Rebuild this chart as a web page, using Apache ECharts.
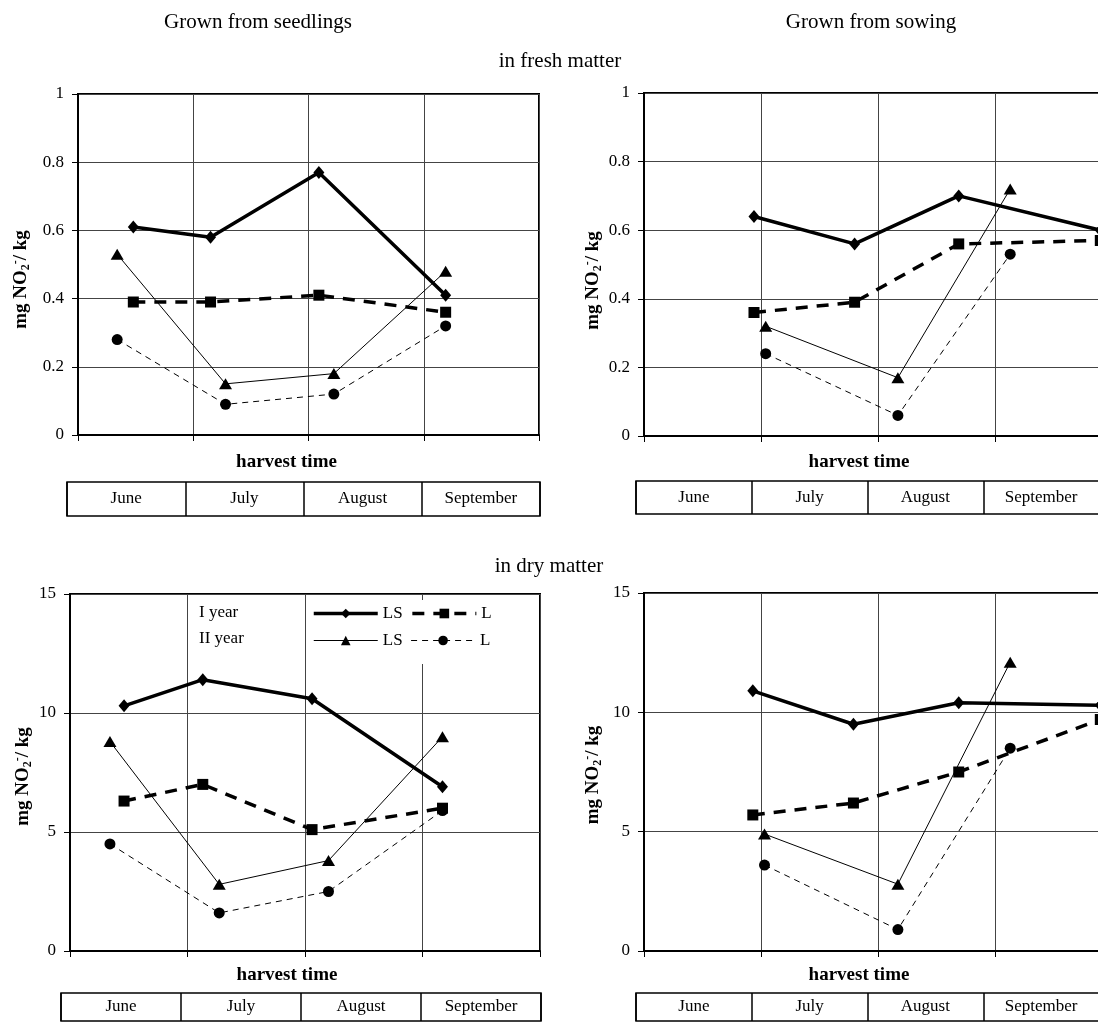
<!DOCTYPE html>
<html><head><meta charset="utf-8">
<script src="https://cdn.jsdelivr.net/npm/echarts@6/dist/echarts.min.js"></script>
<style>html,body{margin:0;padding:0;background:#fff}#c{width:1098px;height:1023px}</style>
</head><body><div id="c"></div>
<script>
const months = ['June', 'July', 'August', 'September'];
const seriesNames = ['LS I year', 'L I year', 'LS II year', 'L II year'];

// Fresh matter, grown from seedlings (top left); x = harvest position in months from start of June
const freshSeedX1 = [0.48, 1.15, 2.09, 3.19];
const freshSeedX2 = [0.34, 1.28, 2.22, 3.19];
const freshSeedLS1 = [0.61, 0.58, 0.77, 0.41];
const freshSeedL1 = [0.39, 0.39, 0.41, 0.36];
const freshSeedLS2 = [0.53, 0.15, 0.18, 0.48];
const freshSeedL2 = [0.28, 0.09, 0.12, 0.32];

// Fresh matter, grown from sowing (top right)
const freshSowX1 = [0.94, 1.80, 2.69, 3.90];
const freshSowX2 = [1.04, 2.17, 3.13];
const freshSowLS1 = [0.64, 0.56, 0.70, 0.60];
const freshSowL1 = [0.36, 0.39, 0.56, 0.57];
const freshSowLS2 = [0.32, 0.17, 0.72];
const freshSowL2 = [0.24, 0.06, 0.53];

// Dry matter, grown from seedlings (bottom left)
const drySeedX1 = [0.46, 1.13, 2.06, 3.17];
const drySeedX2 = [0.34, 1.27, 2.20, 3.17];
const drySeedLS1 = [10.3, 11.4, 10.6, 6.9];
const drySeedL1 = [6.3, 7.0, 5.1, 6.0];
const drySeedLS2 = [8.8, 2.8, 3.8, 9.0];
const drySeedL2 = [4.5, 1.6, 2.5, 5.9];

// Dry matter, grown from sowing (bottom right)
const drySowX1 = [0.93, 1.79, 2.69, 3.90];
const drySowX2 = [1.03, 2.17, 3.13];
const drySowLS1 = [10.9, 9.5, 10.4, 10.3];
const drySowL1 = [5.7, 6.2, 7.5, 9.7];
const drySowLS2 = [4.9, 2.8, 12.1];
const drySowL2 = [3.6, 0.9, 8.5];

const FONT = "'Liberation Serif', 'Times New Roman', serif";

const styles = [
  { symbol: 'diamond', symbolSize: [11, 13], lw: 3.5, type: 'solid' },
  { symbol: 'rect', symbolSize: 11, lw: 3.5, type: [12, 9] },
  { symbol: 'triangle', symbolSize: [13, 11], lw: 1, type: 'solid' },
  { symbol: 'circle', symbolSize: 11, lw: 1, type: [6, 5] }
];

function line(k, gi, xs, ys) {
  const s = styles[k];
  return {
    name: seriesNames[k], type: 'line', xAxisIndex: gi, yAxisIndex: gi,
    data: xs.map((x, i) => [x, ys[i]]),
    symbol: s.symbol, symbolSize: s.symbolSize, showSymbol: true,
    color: '#000', itemStyle: { color: '#000' },
    lineStyle: { color: '#000', width: s.lw, type: s.type },
    animation: false, z: 3 + k
  };
}

const plotGrids = [
  { left: 78, top: 94, width: 461, height: 341 },
  { left: 644, top: 93, width: 468, height: 343 },
  { left: 70, top: 594, width: 470, height: 357 },
  { left: 644, top: 593, width: 468, height: 358 }
];
const tableGrids = [
  { left: 67, top: 482, width: 473, height: 34 },
  { left: 636, top: 481, width: 463, height: 33 },
  { left: 61, top: 993, width: 480, height: 28 },
  { left: 636, top: 993, width: 463, height: 28 }
];
const yMax = [1, 1, 15, 15];
const yInt = [0.2, 0.2, 5, 5];
const yNameGap = [46, 40, 36, 40];
const yNameShift = [30, 32, 8, 6];
const xNameGap = [18, 17, 15, 15];
const xNameShift = [44, 38, 36, 38];

const grid = [], xAxis = [], yAxis = [];
plotGrids.forEach((g, i) => {
  grid.push(Object.assign({ show: true, borderColor: '#000', borderWidth: 2, backgroundColor: 'transparent', outerBoundsMode: 'none', containLabel: false }, g));
  xAxis.push({
    type: 'value', gridIndex: i, min: 0, max: 4, interval: 1,
    axisLine: { show: true, onZero: false, lineStyle: { color: '#000', width: 2 } },
    axisTick: { show: true, length: 6, lineStyle: { color: '#000', width: 1 } },
    axisLabel: { show: false },
    splitLine: { show: true, lineStyle: { color: '#444', width: 1 } },
    name: 'harvest time', nameLocation: 'middle', nameGap: xNameGap[i],
    nameTextStyle: { fontFamily: FONT, fontWeight: 'bold', fontSize: 19, color: '#000', padding: [0, xNameShift[i], 0, 0] }
  });
  yAxis.push({
    type: 'value', gridIndex: i, min: 0, max: yMax[i], interval: yInt[i],
    axisLine: { show: true, lineStyle: { color: '#000', width: 2 } },
    axisTick: { show: true, length: 6, lineStyle: { color: '#000', width: 1 } },
    axisLabel: { fontFamily: FONT, fontSize: 17, color: '#000', margin: 14 },
    splitLine: { show: true, lineStyle: { color: '#444', width: 1 } },
    name: 'mg NO{sub|2}{sup|-}/ kg', nameLocation: 'middle', nameGap: yNameGap[i], nameRotate: 90,
    nameTextStyle: {
      fontFamily: FONT, fontWeight: 'bold', fontSize: 19, color: '#000', padding: [0, yNameShift[i], 0, 0],
      rich: {
        sub: { fontFamily: FONT, fontWeight: 'bold', fontSize: 12, color: '#000', verticalAlign: 'bottom', lineHeight: 22 },
        sup: { fontFamily: FONT, fontWeight: 'bold', fontSize: 12, color: '#000', verticalAlign: 'top', lineHeight: 22 }
      }
    }
  });
});
tableGrids.forEach((g, j) => {
  const gi = 4 + j;
  grid.push(Object.assign({ show: true, borderColor: '#000', borderWidth: 1.5, backgroundColor: 'transparent', outerBoundsMode: 'none', containLabel: false }, g));
  xAxis.push({
    type: 'category', gridIndex: gi, data: months, boundaryGap: true,
    axisLine: { show: false }, axisTick: { show: false },
    splitLine: { show: true, interval: 0, lineStyle: { color: '#000', width: 1.5 } },
    axisLabel: { interval: 0, margin: -g.height / 2, verticalAlign: 'middle', fontFamily: FONT, fontSize: 17, color: '#000' }
  });
  yAxis.push({ type: 'value', gridIndex: gi, min: 0, max: 1, show: false });
});

const series = [
  line(0, 0, freshSeedX1, freshSeedLS1), line(1, 0, freshSeedX1, freshSeedL1),
  line(2, 0, freshSeedX2, freshSeedLS2), line(3, 0, freshSeedX2, freshSeedL2),
  line(0, 1, freshSowX1, freshSowLS1), line(1, 1, freshSowX1, freshSowL1),
  line(2, 1, freshSowX2, freshSowLS2), line(3, 1, freshSowX2, freshSowL2),
  line(0, 2, drySeedX1, drySeedLS1), line(1, 2, drySeedX1, drySeedL1),
  line(2, 2, drySeedX2, drySeedLS2), line(3, 2, drySeedX2, drySeedL2),
  line(0, 3, drySowX1, drySowLS1), line(1, 3, drySowX1, drySowL1),
  line(2, 3, drySowX2, drySowLS2), line(3, 3, drySowX2, drySowL2)
];

function txt(text, x, y, size, align) {
  return { type: 'text', x: x, y: y, z: 100, style: { text: text, fontFamily: FONT, fontSize: size, fill: '#000', textAlign: align || 'center', textVerticalAlign: 'middle' } };
}

const chart = echarts.init(document.getElementById('c'), null, { renderer: 'canvas' });
chart.setOption({
  animation: false,
  backgroundColor: '#fff',
  grid, xAxis, yAxis, series,
  legend: {
    data: seriesNames,
    left: 308, top: 600, width: 200, orient: 'horizontal',
    itemWidth: 64, itemHeight: 12, itemGap: 8,
    padding: [4, 8, 14, 4],
    backgroundColor: '#fff',
    selectedMode: false,
    textStyle: { fontFamily: FONT, fontSize: 17, color: '#000', lineHeight: 19 },
    lineStyle: { width: 'inherit' },
    formatter: n => n.split(' ')[0]
  },
  graphic: [
    txt('Grown from seedlings', 258, 22, 21),
    txt('Grown from sowing', 871, 22, 21),
    txt('in fresh matter', 560, 61, 21),
    txt('in dry matter', 549, 566, 21),
    txt('I year', 199, 613, 17, 'left'),
    txt('II year', 199, 639, 17, 'left')
  ]
});
</script></body></html>
